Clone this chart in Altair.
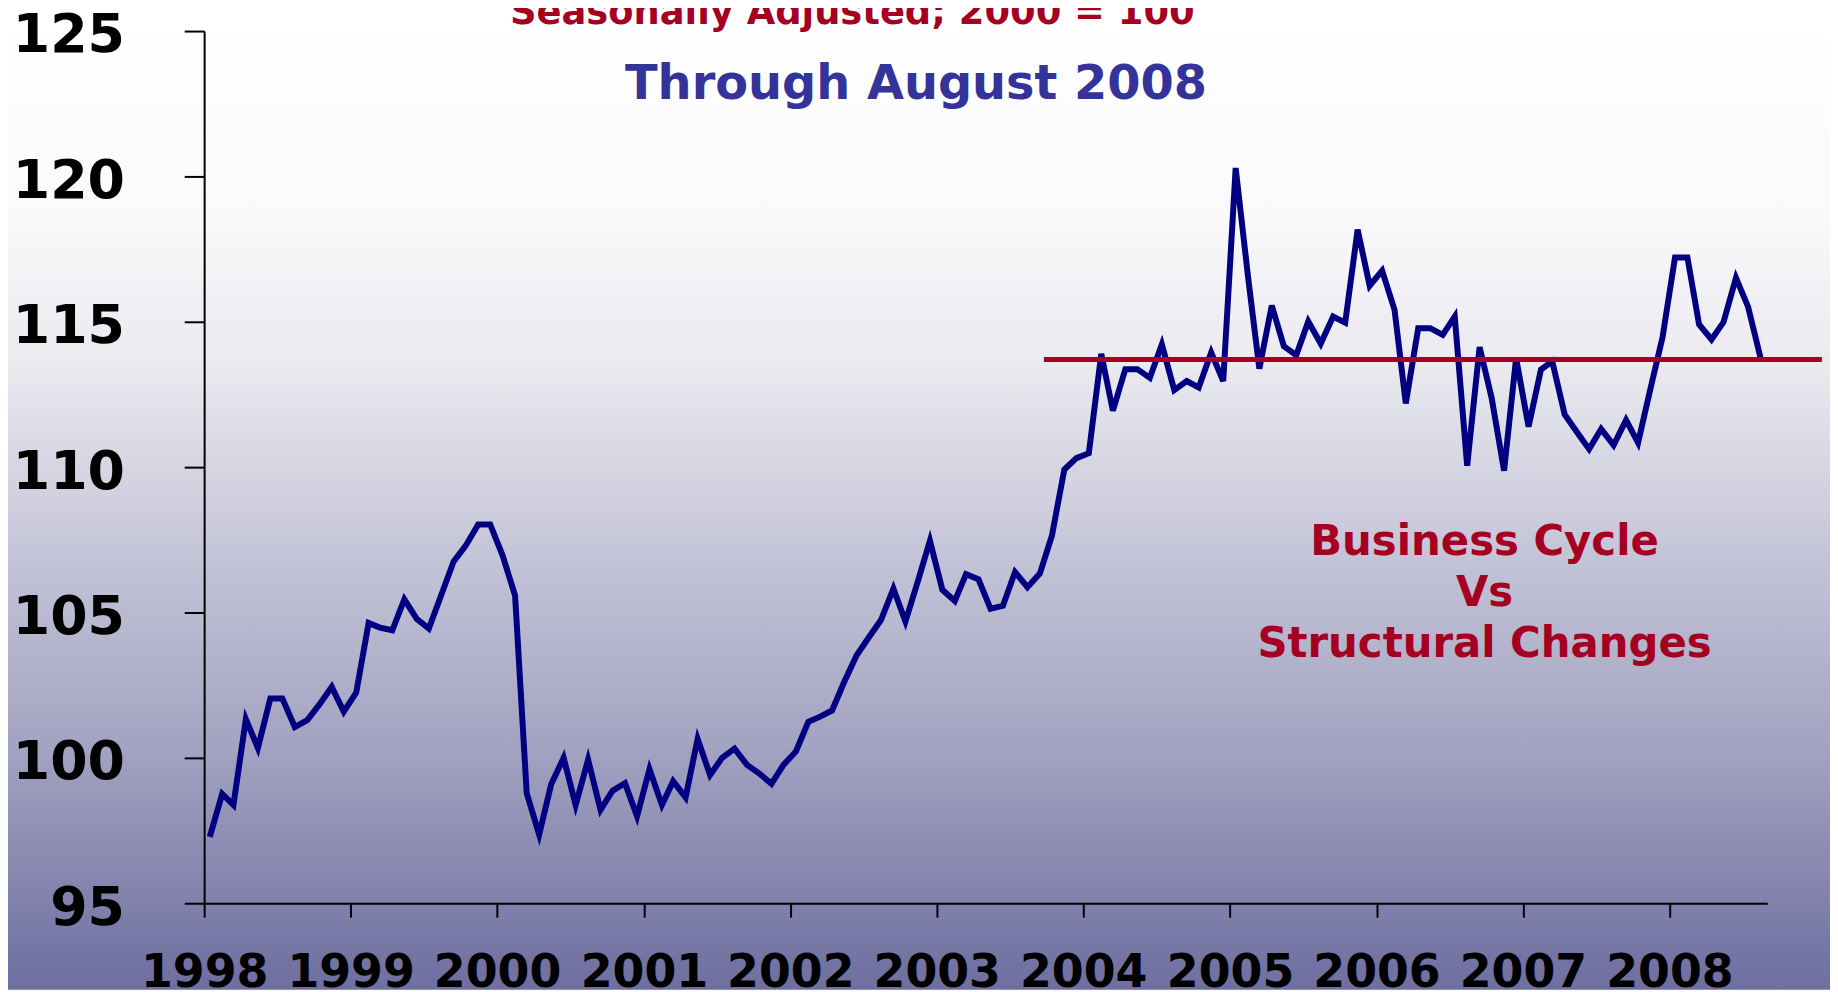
import altair as alt
import pandas as pd

# ---- data (monthly index, Jan 1998 .. Aug 2008) ----
start_month = "1998-01-01"
values = [
    97.28, 98.76, 98.38, 101.33, 100.34, 102.04, 102.04, 101.06, 101.30, 101.83, 102.44, 101.59,
    102.24, 104.64, 104.48, 104.39, 105.45, 104.78, 104.45, 105.60, 106.76, 107.30, 108.03, 108.03,
    106.96, 105.58, 98.78, 97.36, 99.09, 100.00, 98.38, 99.94, 98.21, 98.87, 99.13, 97.99,
    99.61, 98.38, 99.20, 98.64, 100.65, 99.41, 100.00, 100.32, 99.76, 99.47, 99.11, 99.76,
    100.22, 101.24, 101.41, 101.63, 102.60, 103.52, 104.13, 104.74, 105.82, 104.69, 106.08, 107.47,
    105.78, 105.40, 106.32, 106.14, 105.13, 105.23, 106.39, 105.87, 106.34, 107.64, 109.92, 110.31,
    110.48, 113.90, 111.94, 113.37, 113.37, 113.07, 114.22, 112.65, 112.96, 112.74, 113.94, 112.96,
    120.29, 116.53, 113.39, 115.56, 114.16, 113.85, 115.01, 114.25, 115.18, 114.97, 118.17, 116.24,
    116.76, 115.41, 112.19, 114.78, 114.78, 114.55, 115.18, 110.05, 114.13, 112.38, 109.88, 113.75,
    111.39, 113.36, 113.64, 111.81, 111.22, 110.62, 111.31, 110.76, 111.62, 110.84, 112.71, 114.47,
    117.21, 117.21, 114.91, 114.39, 114.99, 116.51, 115.52, 113.77,
]
year_ticks = list(range(1998, 2009))
ref_level = 113.7
ref_start = "2003-09-25T00:00:00"
ref_end = "2009-01-15T00:00:00"
domain_x = ["1998-01-01T00:00:00", "2008-09-01T00:00:00"]

title_1 = "Seasonally Adjusted; 2000 = 100"
title_2 = "Through August 2008"
note_lines = ["Business Cycle", "Vs", "Structural Changes"]

dates = (pd.date_range(start_month, periods=len(values), freq="MS")
         + pd.Timedelta(days=14)).strftime("%Y-%m-%dT00:00:00")
df = pd.DataFrame({"date": dates, "value": values})
ref_df = pd.DataFrame({"date": [ref_start], "date_end": [ref_end], "value": [ref_level]})

W, H = 1570, 876
PAD = {"left": 197, "top": 21, "right": 63, "bottom": 87}
FONT = "DejaVu Sans"
DARK_RED = "#A50021"

x_scale = alt.Scale(domain=domain_x)
y_scale = alt.Scale(domain=[95, 125], nice=False, zero=False)

x_axis = alt.Axis(
    title=None, grid=False, format="%Y", zindex=1,
    values=[alt.DateTime(year=y, month=1, date=1) for y in year_ticks],
    tickSize=14, tickWidth=2, tickColor="black",
    domainColor="black", domainWidth=2,
    labelFont=FONT, labelFontSize=46, labelFontWeight="bold", labelColor="black",
    labelPadding=34, labelFlush=False, labelOverlap=False, labelAngle=0,
)
y_axis = alt.Axis(
    title=None, grid=False, values=[95, 100, 105, 110, 115, 120, 125], zindex=1,
    tickSize=20, tickWidth=2, tickColor="black",
    domainColor="black", domainWidth=2,
    labelFont=FONT, labelFontSize=54, labelFontWeight="bold", labelColor="black",
    labelPadding=60, labelOffset=5, labelFlush=False,
)

gradient = alt.LinearGradient(
    gradient="linear", x1=0, y1=0, x2=0, y2=1,
    stops=[
        alt.GradientStop(offset=0.0, color="#FFFFFF"),
        alt.GradientStop(offset=0.2, color="#FAFAFC"),
        alt.GradientStop(offset=0.36, color="#EAEAEF"),
        alt.GradientStop(offset=0.59, color="#BEBED4"),
        alt.GradientStop(offset=0.74, color="#A5A5C3"),
        alt.GradientStop(offset=1.0, color="#6E6EA0"),
    ],
)

bg = alt.Chart(alt.Data(values=[{}])).mark_rect(color=gradient).encode(
    x=alt.value(-PAD["left"]), x2=alt.value(W + PAD["right"]),
    y=alt.value(-PAD["top"]), y2=alt.value(H + PAD["bottom"]),
)

line = alt.Chart(df).mark_line(color="#000080", strokeWidth=6, strokeCap="butt").encode(
    x=alt.X("date:T", scale=x_scale, axis=x_axis),
    y=alt.Y("value:Q", scale=y_scale, axis=y_axis),
)

rule = alt.Chart(ref_df).mark_rule(color=DARK_RED, strokeWidth=5).encode(
    x=alt.X("date:T", scale=x_scale),
    x2="date_end:T",
    y=alt.Y("value:Q", scale=y_scale),
)

t1 = alt.Chart(alt.Data(values=[{}])).mark_text(
    text=title_1, font=FONT, fontSize=37, fontWeight="bold", color=DARK_RED,
    align="center", baseline="alphabetic",
).encode(x=alt.value(651), y=alt.value(-7))

t2 = alt.Chart(alt.Data(values=[{}])).mark_text(
    text=title_2, font=FONT, fontSize=48, fontWeight="bold", color="#333399",
    align="center", baseline="alphabetic",
).encode(x=alt.value(715), y=alt.value(68))

note = alt.Chart(alt.Data(values=[{}])).mark_text(
    text=note_lines, font=FONT, fontSize=42, fontWeight="bold", color=DARK_RED,
    align="center", baseline="alphabetic", lineHeight=51.5,
).encode(x=alt.value(1286), y=alt.value(526))

chart = alt.layer(bg, line, rule, t1, t2, note).properties(
    width=W, height=H, padding=PAD,
    autosize=alt.AutoSizeParams(type="none"),
).configure_view(stroke=None).configure(background="white")

chart.save("out.html", embed_options={"renderer": "svg", "actions": False})
